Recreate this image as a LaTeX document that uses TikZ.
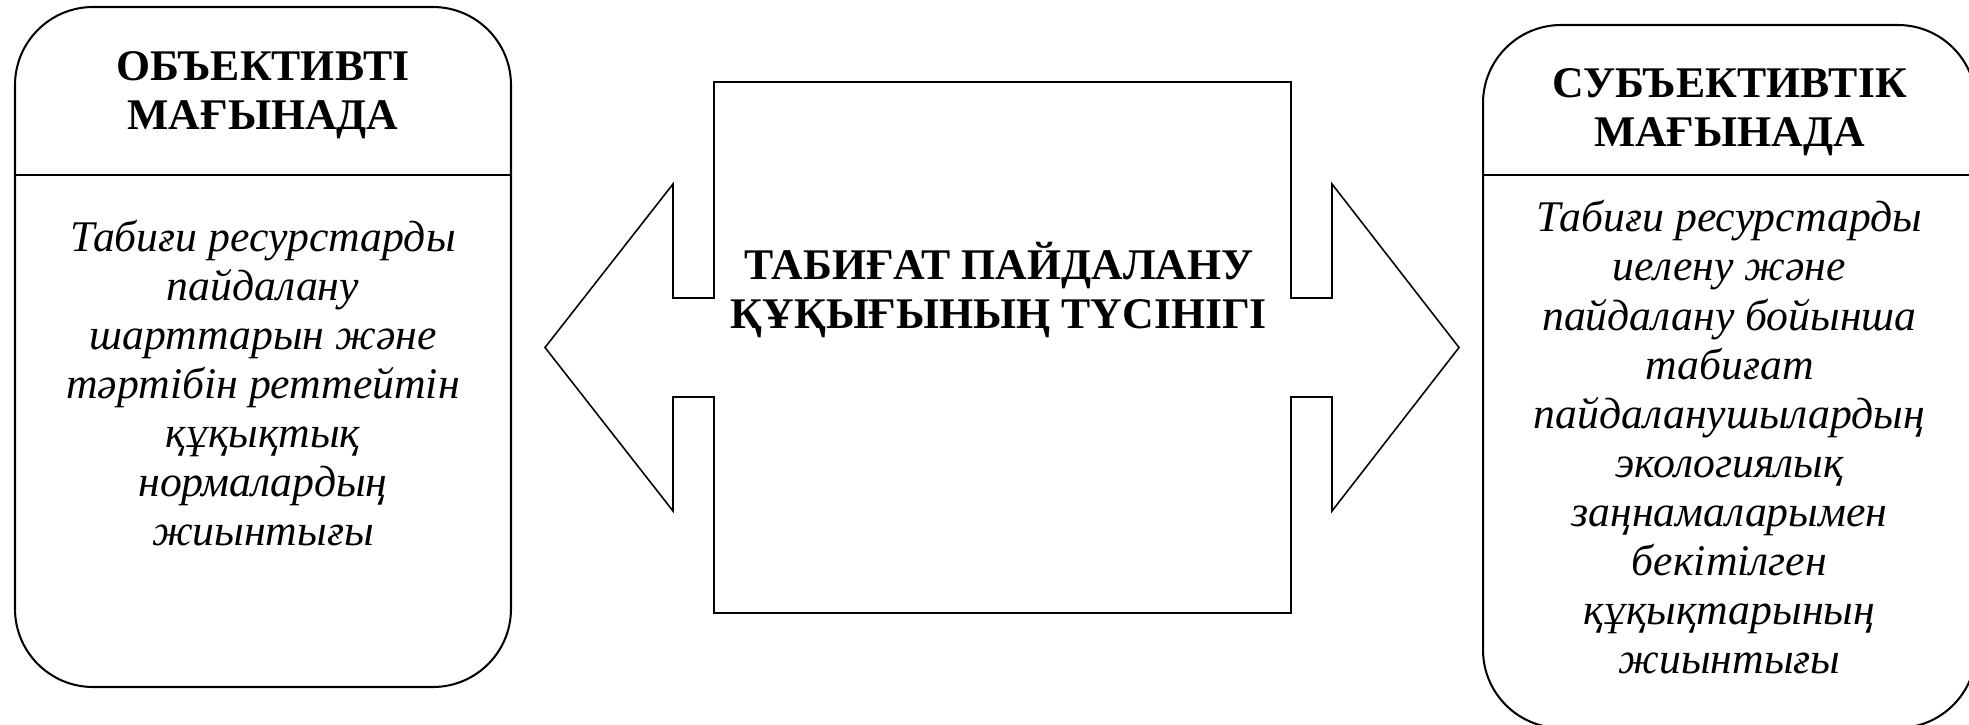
\documentclass[tikz,border=0pt]{standalone}
\usepackage{fontspec}
\setmainfont{Liberation Serif}
\usepackage{tikz}
\newcommand{\diagfont}{\fontsize{14pt}{15.7pt}\selectfont}
\tikzset{
  frame/.style={line width=0.65pt, rounded corners=25pt},
  divider/.style={line width=0.65pt},
  outline/.style={line width=0.5pt, line join=miter},
  headtext/.style={font=\diagfont\bfseries, align=center, inner sep=0pt},
  bodytext/.style={font=\diagfont\itshape, align=center, inner sep=0pt},
}

\begin{document}
\begin{tikzpicture}[x=0.32pt, y=-0.32pt]
  \useasboundingbox (0,0) rectangle (1969,724);
  \clip (0,0) rectangle (1969,724);
  % left box
  \draw[frame] (15,7) rectangle (511,687);
  \draw[divider] (15,175) -- (511,175);
  % right box (runs past the page edge)
  \draw[frame] (1483,25) rectangle (1976,728);
  \draw[divider] (1483,175) -- (1976,175);
  % middle block with arrows to both sides
  \draw[outline] (714,82) -- (1291,82) -- (1291,298) -- (1332,298) -- (1332,184)
    -- (1459,347.5) -- (1332,511) -- (1332,397) -- (1291,397) -- (1291,613)
    -- (714,613) -- (714,397) -- (673,397) -- (673,511) -- (545,347.5)
    -- (673,184) -- (673,298) -- (714,298) -- cycle;
  % labels
  \node[headtext] (objhead) at (263,95.5) {ОБЪЕКТИВТІ\\МАҒЫНАДА};
  \node[bodytext] (objbody) at (263,383) {Табиғи ресурстарды\\пайдалану\\шарттарын және\\тәртібін реттейтін\\құқықтық\\нормалардың\\жиынтығы};
  \node[headtext] (subjhead) at (1729.5,112) {СУБЪЕКТИВТІК\\МАҒЫНАДА};
  \node[bodytext] (subjbody) at (1729.5,437.3) {Табиғи ресурстарды\\иелену және\\пайдалану бойынша\\табиғат\\пайдаланушылардың\\экологиялық\\заңнамаларымен\\бекітілген\\құқықтарының\\жиынтығы};
  \node[headtext] (concept) at (999,290.5) {ТАБИҒАТ ПАЙДАЛАНУ\\ҚҰҚЫҒЫНЫҢ ТҮСІНІГІ};
\end{tikzpicture}
\end{document}
